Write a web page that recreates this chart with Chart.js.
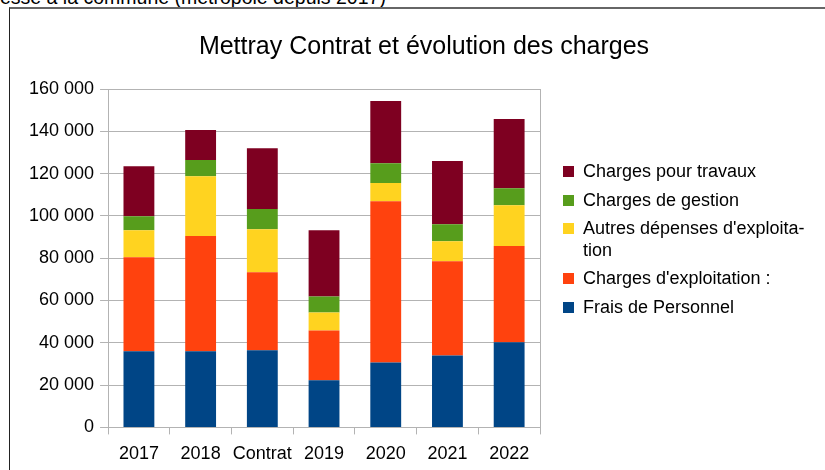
<!DOCTYPE html>
<html>
<head>
<meta charset="utf-8">
<script src="https://cdn.jsdelivr.net/npm/chart.js@4"></script>
<style>
  body { margin: 0; background: #fff; width: 825px; height: 470px; overflow: hidden; position: relative; }
  #topline { position: absolute; left: 0px; top: -12px; font: 19.5px/18px 'Liberation Sans', sans-serif; color: #000; white-space: nowrap; }
  #frame { position: absolute; left: 9px; top: 7px; width: 830px; height: 480px; border-top: 2px solid #666; border-left: 1px solid #222; }
  #box { position: absolute; left: 10px; top: 9px; width: 815px; height: 467px; }
  #legend { position: absolute; left: 563px; top: 161px; font: 18px/21.6px 'Liberation Sans', sans-serif; color: #000; }
  #legend .row { position: relative; padding-left: 20px; margin-bottom: 7px; white-space: nowrap; }
  #legend .sw { position: absolute; left: 0; top: 5px; width: 11px; height: 11px; }
</style>
</head>
<body>
<div id="topline">esse à la commune (métropole depuis 2017)</div>
<div id="frame"></div>
<div id="box"><canvas id="chargesChart" width="815" height="467"></canvas></div>
<div id="legend"></div>
<script>
const categories = ['2017', '2018', 'Contrat', '2019', '2020', '2021', '2022'];
const fraisPersonnel = [36000, 36000, 36500, 22300, 30700, 34000, 40300];
const chargesExploitation = [44400, 54500, 36800, 23500, 76200, 44600, 45500];
const autresDepenses = [12800, 28300, 20400, 8500, 8600, 9400, 19200];
const chargesGestion = [6600, 7600, 9600, 7600, 9400, 8000, 8100];
const chargesTravaux = [23700, 14200, 28700, 31300, 29400, 29900, 32700];

const gridColor = '#b3b3b3';
const font = 'Liberation Sans';

function fmt(v) {
    return String(v).replace(/\B(?=(\d{3})+(?!\d))/g, ' ');
}

const ctx = document.getElementById('chargesChart').getContext('2d');
const chargesChart = new Chart(ctx, {
    type: 'bar',
    data: {
        labels: categories,
        datasets: [
            { label: 'Frais de Personnel', data: fraisPersonnel, backgroundColor: '#004586' },
            { label: "Charges d'exploitation :", data: chargesExploitation, backgroundColor: '#ff420e' },
            { label: "Autres dépenses d'exploitation", data: autresDepenses, backgroundColor: '#ffd320' },
            { label: 'Charges de gestion', data: chargesGestion, backgroundColor: '#579d1c' },
            { label: 'Charges pour travaux', data: chargesTravaux, backgroundColor: '#7e0021' }
        ]
    },
    options: {
        responsive: false,
        animation: false,
        barPercentage: 0.5,
        categoryPercentage: 1.0,
        layout: {
            padding: { left: 13, right: 0, top: 0, bottom: 2 }
        },
        plugins: {
            title: {
                display: true,
                text: 'Mettray Contrat et évolution des charges',
                color: '#000',
                font: { family: font, size: 25, weight: 'normal' },
                padding: { top: 23, bottom: 27 }
            },
            legend: { display: false },
            tooltip: { enabled: false }
        },
        scales: {
            x: {
                stacked: true,
                grid: {
                    offset: true,
                    drawOnChartArea: false,
                    drawTicks: true,
                    tickLength: 7,
                    color: gridColor
                },
                border: { display: true, color: gridColor },
                ticks: {
                    color: '#000',
                    padding: 9,
                    maxRotation: 0,
                    autoSkip: false,
                    font: { family: font, size: 18 }
                }
            },
            y: {
                stacked: true,
                min: 0,
                max: 160000,
                ticks: {
                    stepSize: 20000,
                    color: '#000',
                    padding: 6,
                    font: { family: font, size: 18 },
                    callback: function (v) { return fmt(v); }
                },
                grid: {
                    color: gridColor,
                    tickLength: 8
                },
                border: { display: true, color: gridColor }
            },
            // empty right axis: draws the right frame line and keeps room for the legend
            y2: {
                position: 'right',
                grid: { display: false },
                ticks: { display: false },
                border: { display: true, color: gridColor },
                afterFit: function (s) { s.width = 285; }
            }
        }
    }
});

// legend, top entry = last dataset
const legendBox = document.getElementById('legend');
chargesChart.data.datasets.slice().reverse().forEach(function (ds) {
    const row = document.createElement('div');
    row.className = 'row';
    const sw = document.createElement('span');
    sw.className = 'sw';
    sw.style.background = ds.backgroundColor;
    row.appendChild(sw);
    if (ds.label === "Autres dépenses d'exploitation") {
        row.appendChild(document.createTextNode("Autres dépenses d'exploita-"));
        row.appendChild(document.createElement('br'));
        row.appendChild(document.createTextNode('tion'));
    } else {
        row.appendChild(document.createTextNode(ds.label));
    }
    legendBox.appendChild(row);
});
</script>
</body>
</html>
